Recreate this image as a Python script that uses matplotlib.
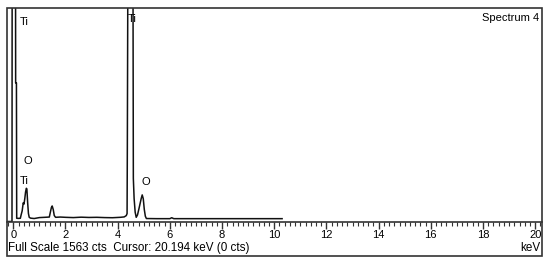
import matplotlib.pyplot as plt
from matplotlib.patches import Rectangle
from matplotlib.ticker import MultipleLocator

plt.rcParams['font.family'] = ['Liberation Sans', 'DejaVu Sans']

# Spectrum (keV, counts)
energy_kev = [-0.23, -0.05, -0.04, 0.08, 0.09, 0.12, 0.13, 0.20, 0.27, 0.30,
              0.34, 0.38, 0.41, 0.44, 0.47, 0.50, 0.52, 0.55, 0.58, 0.61,
              0.66, 0.80, 1.00, 1.20, 1.38, 1.42, 1.46, 1.49, 1.53, 1.57,
              1.62, 1.80, 2.00, 2.30, 2.60, 2.90, 3.20, 3.50, 3.80, 4.10,
              4.25, 4.33, 4.36, 4.37, 4.40, 4.58, 4.60, 4.63, 4.67, 4.71,
              4.76, 4.82, 4.86, 4.90, 4.94, 4.98, 5.02, 5.06, 5.10, 5.50,
              6.00, 6.07, 6.15, 7.00, 8.00, 9.00, 10.30]
counts = [-19, -19, 3000, 3000, 1008, 1008, 5, 4, 5, 30,
          60, 119, 110, 150, 200, 227, 222, 120, 40, 12,
          6, 3, 10, 12, 14, 50, 85, 96, 70, 25,
          12, 14, 12, 10, 13, 11, 12, 10, 9, 12,
          15, 25, 40, 530, 2500, 2500, 300, 150, 50, 12,
          30, 80, 115, 150, 178, 150, 70, 20, 3, 2,
          2, 9, 2, 2, 2, 2, 2]

full_scale = 1563
x_ticks = [0, 2, 4, 6, 8, 10, 12, 14, 16, 18, 20]

fig = plt.figure(figsize=(5.5, 2.65), dpi=100)

# outer frame
fig.patches.append(Rectangle((7.3 / 550, 1 - 256 / 265), (542 - 7.3) / 550, (256 - 8) / 265,
                             transform=fig.transFigure, fill=False,
                             edgecolor='#333333', linewidth=1.2))

ax = fig.add_axes([7.3 / 550, 1 - 221.5 / 265, (542 - 7.3) / 550, (221.5 - 8) / 265])
ax.plot(energy_kev, counts, color='#111111', linewidth=1.1)
ax.set_xlim(-0.23, 20.26)
ax.set_ylim(-19, full_scale)

for s in ['top', 'left', 'right']:
    ax.spines[s].set_visible(False)
ax.spines['bottom'].set_color('#333333')
ax.spines['bottom'].set_linewidth(1.2)
ax.set_yticks([])
ax.set_xticks(x_ticks)
ax.xaxis.set_minor_locator(MultipleLocator(0.2))
ax.tick_params(axis='x', which='major', length=5, width=1, color='#333333',
               labelsize=8, pad=1)
ax.tick_params(axis='x', which='minor', length=3, width=0.8, color='#333333')
ax.patch.set_alpha(0)

# peak labels
ax.text(0.41, 1459, 'Ti', fontsize=8, ha='center', va='center')
ax.text(4.55, 1480, 'Ti', fontsize=8, ha='center', va='center')
ax.text(0.55, 432, 'O', fontsize=8, ha='center', va='center')
ax.text(0.41, 283, 'Ti', fontsize=8, ha='center', va='center')
ax.text(5.08, 275, 'O', fontsize=8, ha='center', va='center')
ax.text(0.995, 0.975, 'Spectrum 4', transform=ax.transAxes, fontsize=8,
        ha='right', va='top')

fig.text(8 / 550, 1 - 248 / 265, 'Full Scale 1563 cts  Cursor: 20.194 keV (0 cts)',
         fontsize=8.4, ha='left', va='center')
fig.text(540 / 550, 1 - 248 / 265, 'keV', fontsize=8.4, ha='right', va='center')

fig.savefig('out.png', dpi=100)
